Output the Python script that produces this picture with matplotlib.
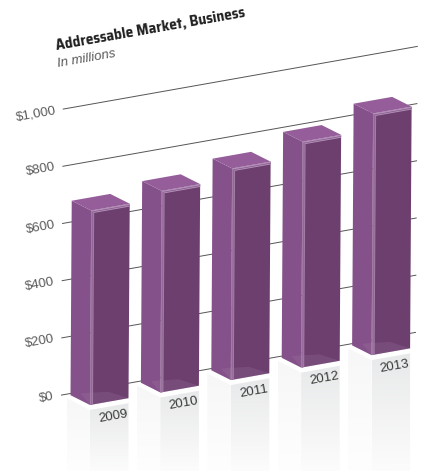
import numpy as np
import matplotlib
matplotlib.use('Agg')
from matplotlib import pyplot as plt
from matplotlib.colors import LinearSegmentedColormap
from matplotlib.patches import Polygon

years = ['2009', '2010', '2011', '2012', '2013']
market_values = [680, 705, 740, 790, 845]
tick_values = [0, 200, 400, 600, 800, 1000]
tick_labels = ['$0', '$200', '$400', '$600', '$800', '$1,000']

ROW_STEP = 70.4
BAR_WIDTH = 38.5
BEVEL = 3.0
ANGLE = 10

LABEL_FONT = ['Liberation Sans', 'DejaVu Sans']
TITLE_FONT = ['Saira SemiCondensed', 'Lato', 'DejaVu Sans']


#
#   Oblique projection: u runs along the row, d goes back into the page,
#   v is the value in dollars.
#

def project(u, d, v):
    x = 90 + u - 19.5 * d + 0.0018 * v
    y = 405 - 0.177 * u - 9.8 * d - 0.286 * v
    return (x, y)


def face(ax, points, color, alpha=1.0, zorder=3):
    ax.add_patch(Polygon([project(*p) for p in points], closed=True, facecolor=color,
                         edgecolor='none', alpha=alpha, zorder=zorder))


def gradient_face(ax, points, top, bottom):
    cmap = LinearSegmentedColormap.from_list('fade', [top, bottom])
    poly = Polygon(points, closed=True, facecolor='none', edgecolor='none')
    ax.add_patch(poly)
    ys = np.array([p[1] for p in points])
    xs = np.array([p[0] for p in points])
    img = ax.imshow(np.linspace(0, 1, 64).reshape(-1, 1), cmap=cmap, aspect='auto', zorder=1,
                    extent=(xs.min(), xs.max(), ys.max(), ys.min()))
    img.set_clip_path(poly)


def draw_floor(ax, u):
    back = project(u, 1.2, -17.5)
    front = project(u, 0, -17.5)
    right = project(u + BAR_WIDTH, 0, -17.5)
    gradient_face(ax, [back, front, (front[0], 471), (back[0], 471)], '#f7f7f8', '#fefefe')
    gradient_face(ax, [front, right, (right[0], 471), (front[0], 471)], '#e8e9ea', '#fcfcfc')


def draw_bar(ax, u, value):
    end = u + BAR_WIDTH

    # sides and lid
    face(ax, [(u, 1, 0), (u, 0, 0), (u, 0, value), (u, 1, value)], '#85518a', zorder=3)
    face(ax, [(u, 0, 0), (end, 0, 0), (end, 0, value), (u, 0, value)], '#6d3f6f', zorder=3)
    face(ax, [(u, 0, value), (end, 0, value), (end, 1, value), (u, 1, value)], '#965d9b', zorder=3)

    # pale bevel round the front face
    top = value - 10
    face(ax, [(u, 0, 0), (u + BEVEL, 0, 0), (u + BEVEL, 0, value), (u, 0, value)],
         '#ad88b1', alpha=0.85, zorder=4)
    face(ax, [(u + 1, 0, 0), (u + 2, 0, 0), (u + 2, 0, value), (u + 1, 0, value)],
         '#8c5e91', alpha=0.75, zorder=4)
    face(ax, [(u, 0, value), (end, 0, value), (end, 0, top), (u + BEVEL, 0, top), (u, 0, value)],
         '#b795bb', zorder=4)
    face(ax, [(u + 1.5, 0, value - 4), (end, 0, value - 4), (end, 0, value - 7), (u + 1.5, 0, value - 7)],
         '#8c5e91', zorder=4)

    # base showing through the foot of the bar
    face(ax, [(u, 0, 0), (end, 0, 0), (u + 33, 0.75, 0), (u + 10, 1, 0)],
         '#a884ab', alpha=0.2, zorder=5)


fig = plt.figure(figsize=(4.25, 4.71), dpi=100)
ax = fig.add_axes([0, 0, 1, 1])
ax.set_axis_off()

for i, value in enumerate(market_values):
    draw_floor(ax, i * ROW_STEP)

for value, label in zip(tick_values, tick_labels):
    x0, y0 = project(-7, 1.13, value)
    x1, y1 = project(348, 1.13, value)
    ax.plot([x0, x1], [y0, y1], color='#555555', lw=0.7, zorder=2, solid_capstyle='butt')
    ax.text(x0 - 7, y0 + 1, label, ha='right', va='center', rotation=ANGLE, rotation_mode='anchor',
            fontsize=9.5, color='#5a5a5a', family=LABEL_FONT)

for i, value in enumerate(market_values):
    draw_bar(ax, i * ROW_STEP, value)

for i, year in enumerate(years):
    x, y = project(i * ROW_STEP + 23, 0, -53)
    ax.text(x, y, year, ha='center', va='center', rotation=ANGLE, rotation_mode='anchor',
            fontsize=9.5, color='#3a3a3a', family=LABEL_FONT, zorder=6)

ax.text(57, 50, 'Addressable Market, Business', ha='left', va='baseline', rotation=ANGLE,
        rotation_mode='anchor', fontsize=11, fontweight='bold', color='#222222', family=TITLE_FONT)
ax.text(58, 67, 'In millions', ha='left', va='baseline', rotation=ANGLE, rotation_mode='anchor',
        fontsize=9.5, fontstyle='italic', color='#5a5a5a', family=LABEL_FONT)

ax.set_xlim(0, 425)
ax.set_ylim(471, 0)

fig.savefig('out.png', dpi=100, facecolor='white')
